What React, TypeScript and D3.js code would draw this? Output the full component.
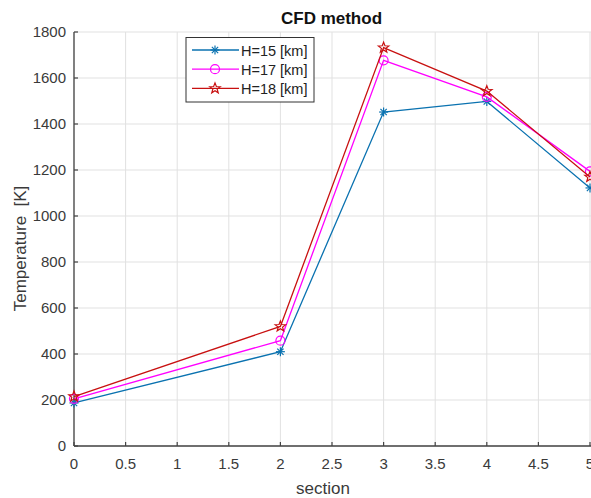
import React from "react";
import * as d3 from "d3";

const sections = [0, 2, 3, 4, 5];
const h15 = [187, 410, 1452, 1498, 1122];
const h17 = [205, 458, 1677, 1518, 1194];
const h18 = [215, 520, 1732, 1543, 1170];
const seriesNames = ["H=15 [km]", "H=17 [km]", "H=18 [km]"];
const xTicks = [0, 0.5, 1, 1.5, 2, 2.5, 3, 3.5, 4, 4.5, 5];
const yTicks = [0, 200, 400, 600, 800, 1000, 1200, 1400, 1600, 1800];

const W = 591, H = 498;
const left = 74, right = 591, top = 32, bottom = 446;
const FONT = "Liberation Sans, Arial, Helvetica, sans-serif";

const colors = ["#0a72b0", "#ff00ff", "#c81010"];

function Marker({ kind, x, y, color }: { kind: number; x: number; y: number; color: string }) {
  if (kind === 0) {
    const r = 4.5;
    const d = r * 0.7;
    return (
      <g stroke={color} strokeWidth={1.2}>
        <line x1={x - r} y1={y} x2={x + r} y2={y} />
        <line x1={x} y1={y - r} x2={x} y2={y + r} />
        <line x1={x - d} y1={y - d} x2={x + d} y2={y + d} />
        <line x1={x - d} y1={y + d} x2={x + d} y2={y - d} />
      </g>
    );
  }
  if (kind === 1) {
    return <circle cx={x} cy={y} r={4.5} fill="none" stroke={color} strokeWidth={1.2} />;
  }
  const pts: [number, number][] = [];
  for (let i = 0; i < 10; i++) {
    const a = -Math.PI / 2 + (i * Math.PI) / 5;
    const r = i % 2 === 0 ? 5.5 : 2.3;
    pts.push([x + r * Math.cos(a), y + r * Math.sin(a)]);
  }
  return <polygon points={pts.map((p) => p.join(",")).join(" ")} fill="none" stroke={color} strokeWidth={1.2} />;
}

export default function App() {
  const xs = d3.scaleLinear().domain([0, 5]).range([left, right - 1]);
  const ys = d3.scaleLinear().domain([0, 1800]).range([bottom, top]);
  const line = d3
    .line<number>()
    .x((_, i) => xs(sections[i]))
    .y((d) => ys(d));
  const all = [h15, h17, h18];

  return (
    <svg width={W} height={H} style={{ position: "absolute", left: 0, top: 0, background: "#fff" }} fontFamily={FONT}>
      <rect x={0} y={0} width={W} height={H} fill="#fff" />
      {/* grid */}
      {xTicks.map((t) => (
        <line key={"gx" + t} x1={xs(t)} x2={xs(t)} y1={top} y2={bottom} stroke="#e1e1e1" strokeWidth={1} />
      ))}
      {yTicks.map((t) => (
        <line key={"gy" + t} x1={left} x2={right} y1={ys(t)} y2={ys(t)} stroke="#e1e1e1" strokeWidth={1} />
      ))}
      {/* axes */}
      <line x1={left} x2={left} y1={top} y2={bottom} stroke="#444" strokeWidth={1.3} />
      <line x1={left} x2={right} y1={bottom} y2={bottom} stroke="#444" strokeWidth={1.3} />
      {xTicks.map((t) => (
        <g key={"tx" + t}>
          <line x1={xs(t)} x2={xs(t)} y1={bottom} y2={bottom - 4} stroke="#444" strokeWidth={1.2} />
          <text x={xs(t)} y={bottom + 22.5} textAnchor="middle" fontSize={15} fill="#3a3a3a">
            {t}
          </text>
        </g>
      ))}
      {yTicks.map((t) => (
        <g key={"ty" + t}>
          <line x1={left} x2={left + 4} y1={ys(t)} y2={ys(t)} stroke="#444" strokeWidth={1.2} />
          <text x={left - 8} y={ys(t) + 5} textAnchor="end" fontSize={15} fill="#3a3a3a">
            {t}
          </text>
        </g>
      ))}
      {/* series */}
      {all.map((s, k) => (
        <g key={"s" + k}>
          <path d={line(s) || ""} fill="none" stroke={colors[k]} strokeWidth={1.3} />
          {s.map((v, i) => (
            <Marker key={i} kind={k} x={xs(sections[i])} y={ys(v)} color={colors[k]} />
          ))}
        </g>
      ))}
      {/* title and labels */}
      <text x={331.5} y={23.5} textAnchor="middle" fontSize={17} fontWeight="bold" fill="#111">
        CFD method
      </text>
      <text x={323} y={494} textAnchor="middle" fontSize={17} fill="#3a3a3a">
        section
      </text>
      <text
        transform={`translate(26,248.5) rotate(-90)`}
        textAnchor="middle"
        fontSize={17}
        fill="#3a3a3a"
        style={{ whiteSpace: "pre" }}
      >
        {"Temperature  [K]"}
      </text>
      {/* legend */}
      <rect x={186} y={37.5} width={128} height={64.5} fill="#fff" stroke="#333" strokeWidth={1} />
      {seriesNames.map((n, k) => {
        const y = 50 + k * 19.2;
        return (
          <g key={"l" + k}>
            <line x1={192} x2={239} y1={y} y2={y} stroke={colors[k]} strokeWidth={1.3} />
            <Marker kind={k} x={215} y={y} color={colors[k]} />
            <text x={241} y={y + 5.5} fontSize={14.5} fill="#222">
              {n}
            </text>
          </g>
        );
      })}
    </svg>
  );
}
